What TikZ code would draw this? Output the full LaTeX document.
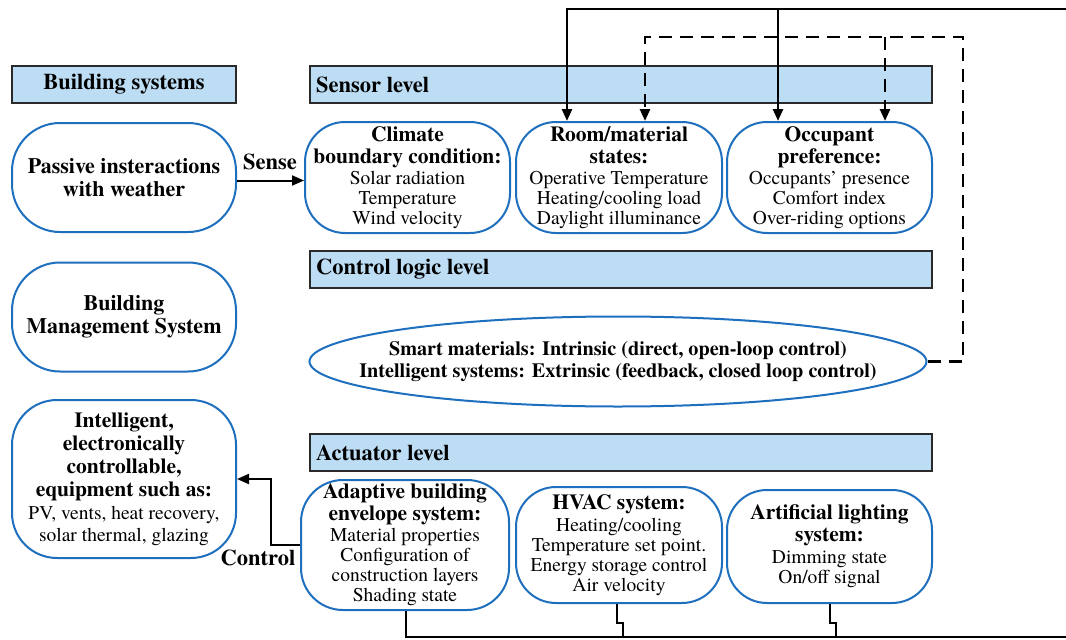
\documentclass[tikz,border=0pt]{standalone}
\usepackage{fontspec}
\setmainfont{texgyretermes}[Extension=.otf, UprightFont=*-regular, BoldFont=*-bold,
  ItalicFont=*-italic, BoldItalicFont=*-bolditalic]
\usetikzlibrary{arrows.meta,shapes.geometric,calc}

\definecolor{barfill}{HTML}{BDDDF4}
\definecolor{nodeblue}{HTML}{1E6FBE}
\definecolor{barline}{HTML}{2A2A2A}

% bold heading line inside a node
\newcommand{\hd}[1]{{\fontsize{21.5}{20}\selectfont\bfseries #1}}

\tikzset{
  levelbar/.style={draw=barline, fill=barfill, line width=1.5pt, inner sep=0pt,
    minimum height=37pt, font=\fontsize{22.5}{22}\selectfont\bfseries},
  rbox/.style={draw=nodeblue, fill=white, line width=2pt, inner sep=0pt,
    align=center, font=\fontsize{19.5}{20}\selectfont},
  fb/.style={line width=2.6pt, line cap=rect},
  dfb/.style={line width=2.6pt, dash pattern=on 13pt off 8pt},
  tip/.style={-{Triangle[length=12pt,width=10pt]}},
  flow/.style={line width=2pt},
  lbl/.style={font=\fontsize{22.5}{22}\selectfont\bfseries, inner sep=0pt}
}

\begin{document}
\begin{tikzpicture}[x=1pt,y=-1pt]
\useasboundingbox (0,0) rectangle (1066,640);

% level headers
\node[levelbar, minimum width=224pt] (bsys) at (124,84.5) {Building systems};
\node[levelbar, minimum width=622pt] (sensorbar) at (621,84.5) {};
\node[lbl, anchor=west] (sensorlbl) at (316,84.5) {Sensor level};
\node[levelbar, minimum width=622pt] (controlbar) at (621,269.5) {};
\node[lbl, anchor=west] (controllbl) at (316,269.5) {Control logic level};
\node[levelbar, minimum width=622pt] (actbar) at (621,452.5) {};
\node[lbl, anchor=west] (actlbl) at (316,452.5) {Actuator level};

% building system side
\node[rbox, rounded corners=48pt, minimum width=224pt, minimum height=109pt,
  font=\fontsize{22}{23}\selectfont\bfseries] (passive) at (124,177.5)
  {Passive insteractions\\with weather};
\node[rbox, rounded corners=48pt, minimum width=224pt, minimum height=109pt,
  font=\fontsize{22}{23}\selectfont\bfseries] (bms) at (124,317)
  {Building\\Management System};
\node[rbox, rounded corners=45pt, minimum width=224pt, minimum height=158pt] (intel) at (124,479)
  {\hd{Intelligent,}\\[3pt]\hd{electronically}\\[3pt]\hd{controllable,}\\[3pt]%
   \hd{equipment such as:}\\[3pt]PV, vents, heat recovery,\\[2pt]solar thermal, glazing};

% sensor level
\node[rbox, rounded corners=40pt, minimum width=205pt, minimum height=111pt] (climate) at (407.5,177.5)
  {\hd{Climate}\\[2pt]\hd{boundary condition:}\\[1pt]Solar radiation\\Temperature\\Wind velocity};
\node[rbox, rounded corners=40pt, minimum width=206pt, minimum height=111pt] (room) at (619,177.5)
  {\hd{Room/material}\\[2pt]\hd{states:}\\[1pt]Operative Temperature\\Heating/cooling load\\Daylight illuminance};
\node[rbox, rounded corners=40pt, minimum width=205pt, minimum height=111pt] (occ) at (829.5,177.5)
  {\hd{Occupant}\\[2pt]\hd{preference:}\\[1pt]Occupants’ presence\\Comfort index\\Over-riding options};

% control logic level
\node[rbox, ellipse, minimum width=617pt, minimum height=90pt] (smart) at (618,361.5) {};
\node[align=center, inner sep=0pt, font=\fontsize{20.2}{22}\selectfont\bfseries] (smarttext) at (smart.center)
  {Smart materials: Intrinsic (direct, open-loop control)\\Intelligent systems: Extrinsic (feedback, closed loop control)};

% actuator level
\node[rbox, rounded corners=42pt, minimum width=208pt, minimum height=130pt] (adapt) at (405,545)
  {\hd{Adaptive building}\\[2pt]\hd{envelope system:}\\[1pt]Material properties\\Configuration of\\construction layers\\Shading state};
\node[rbox, rounded corners=40pt, minimum width=206pt, minimum height=116pt] (hvac) at (619,545)
  {\hd{HVAC system:}\\[2pt]Heating/cooling\\Temperature set point.\\Energy storage control\\Air velocity};
\node[rbox, rounded corners=40pt, minimum width=205pt, minimum height=113pt] (light) at (829.5,546.5)
  {\hd{Artificial lighting}\\[2pt]\hd{system:}\\[2pt]Dimming state\\On/off signal};

% sense and control links
\draw[flow, tip] ([yshift=-3pt]passive.east) -- ([yshift=-3pt]climate.west);
\node[lbl] (senselbl) at (270,162) {Sense};
\draw[flow, tip] (adapt.west) -- ++(-29,0) |- (intel.east);
\node[lbl] (controllink) at (258,558) {Control};

% feedback loop from the actuators back to the sensors
\coordinate (fbtop) at (1066,9);
\coordinate (fbbot) at (1066,637);
\draw[fb, tip] (fbtop) -| ([xshift=-52pt]room.north);
\draw[fb, tip] ([xshift=-51.5pt]occ.north |- fbtop) -- ([xshift=-51.5pt]occ.north);

% dashed loop from the control logic to the sensors
\coordinate (dcorner) at (963,37);
\draw[dfb, tip] (smart.east) -| (dcorner) -| ([xshift=26pt]room.north);
\draw[dfb, tip] ([xshift=55.5pt]occ.north |- dcorner) -- ([xshift=55.5pt]occ.north);

% actuator outputs
\draw[flow] ([xshift=1pt]adapt.south) |- (fbbot);
\draw[flow] ([xshift=-2pt]hvac.south) -- ++(0,19) -- ++(6,0) |- (fbbot);
\draw[flow] ([xshift=0.5pt]light.south) -- ++(0,19) -- ++(6,0) |- (fbbot);
\end{tikzpicture}
\end{document}
